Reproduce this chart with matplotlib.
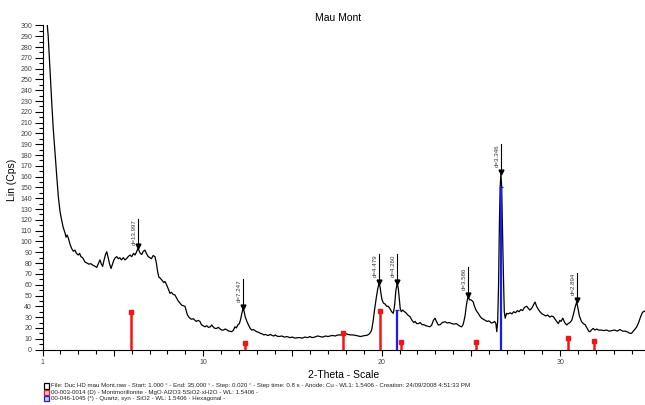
import matplotlib
matplotlib.use('Agg')
import matplotlib.pyplot as plt
from matplotlib.ticker import FixedLocator, MultipleLocator
from matplotlib.patches import Rectangle

plt.rcParams['font.family'] = ['Liberation Sans', 'DejaVu Sans']

# measured scan (2-theta in degrees, counts)
two_theta = [
    1.00, 1.10, 1.20, 1.27, 1.32, 1.40, 1.52, 1.60, 1.70, 1.80,
    1.89, 1.98, 2.07, 2.16, 2.26, 2.32, 2.38, 2.45, 2.55, 2.65,
    2.73, 2.82, 2.90, 3.00, 3.08, 3.15, 3.25, 3.38, 3.50, 3.60,
    3.70, 3.83, 3.95, 4.04, 4.12, 4.22, 4.30, 4.37, 4.45, 4.53,
    4.60, 4.68, 4.76, 4.84, 4.92, 5.00, 5.08, 5.16, 5.25, 5.33,
    5.42, 5.53, 5.62, 5.70, 5.80, 5.90, 6.00, 6.10, 6.18, 6.26,
    6.35, 6.42, 6.48, 6.56, 6.65, 6.74, 6.82, 6.92, 7.02, 7.10,
    7.20, 7.30, 7.38, 7.45, 7.52, 7.60, 7.70, 7.80, 7.86, 7.95,
    8.05, 8.14, 8.22, 8.32, 8.42, 8.50, 8.60, 8.70, 8.80, 8.90,
    8.98, 9.05, 9.12, 9.20, 9.26, 9.35, 9.45, 9.54, 9.62, 9.72,
    9.82, 9.90, 10.00, 10.10, 10.20, 10.30, 10.40, 10.48, 10.56, 10.66,
    10.76, 10.85, 10.95, 11.04, 11.14, 11.24, 11.34, 11.45, 11.60, 11.70,
    11.78, 11.86, 11.95, 12.03, 12.10, 12.16, 12.24, 12.30, 12.36, 12.45,
    12.53, 12.62, 12.72, 12.82, 12.90, 13.00, 13.10, 13.20, 13.30, 13.40,
    13.48, 13.56, 13.66, 13.76, 13.86, 13.96, 14.04, 14.12, 14.25, 14.40,
    14.55, 14.70, 14.85, 15.00, 15.15, 15.30, 15.43, 15.55, 15.70, 15.85,
    15.98, 16.10, 16.25, 16.40, 16.55, 16.70, 16.85, 17.00, 17.10, 17.25,
    17.40, 17.55, 17.67, 17.80, 17.95, 18.10, 18.25, 18.40, 18.55, 18.70,
    18.80, 18.95, 19.06, 19.16, 19.28, 19.38, 19.44, 19.52, 19.60, 19.70,
    19.78, 19.85, 19.91, 19.96, 20.02, 20.10, 20.20, 20.28, 20.37, 20.46,
    20.56, 20.65, 20.72, 20.80, 20.87, 20.93, 20.98, 21.04, 21.10, 21.18,
    21.28, 21.36, 21.46, 21.59, 21.70, 21.80, 21.88, 21.96, 22.06, 22.16,
    22.26, 22.36, 22.48, 22.60, 22.70, 22.80, 22.90, 22.99, 23.07, 23.17,
    23.28, 23.40, 23.55, 23.68, 23.80, 23.92, 24.05, 24.18, 24.30, 24.40,
    24.48, 24.56, 24.62, 24.68, 24.74, 24.80, 24.85, 24.92, 25.00, 25.08,
    25.13, 25.20, 25.30, 25.41, 25.50, 25.60, 25.70, 25.79, 25.90, 26.00,
    26.07, 26.15, 26.25, 26.33, 26.40, 26.45, 26.50, 26.55, 26.60, 26.64,
    26.68, 26.72, 26.77, 26.82, 26.87, 26.92, 27.00, 27.10, 27.20, 27.30,
    27.40, 27.50, 27.60, 27.70, 27.80, 27.90, 28.00, 28.13, 28.22, 28.30,
    28.40, 28.50, 28.59, 28.68, 28.78, 28.87, 28.98, 29.10, 29.20, 29.30,
    29.42, 29.52, 29.62, 29.72, 29.80, 29.90, 29.98, 30.05, 30.15, 30.25,
    30.37, 30.45, 30.55, 30.65, 30.75, 30.85, 30.93, 31.00, 31.08, 31.20,
    31.30, 31.40, 31.50, 31.60, 31.67, 31.75, 31.85, 31.95, 32.05, 32.15,
    32.30, 32.45, 32.60, 32.75, 32.90, 33.05, 33.20, 33.35, 33.50, 33.65,
    33.80, 33.90, 34.00, 34.10, 34.20, 34.29, 34.40, 34.50, 34.60, 34.66,
    34.80, 34.90, 35.00,
]
counts = [
    345, 325, 310, 300, 290, 265, 228, 205, 182, 160,
    141, 128, 120, 113, 108, 104, 106, 103, 97, 93,
    91, 92, 89, 87.5, 89, 86, 85, 81, 80, 79,
    79.5, 78, 77, 76, 79, 83, 79, 77, 83, 88,
    90.5, 85, 79, 75, 79, 83, 85, 86, 84, 85,
    83, 85, 83, 84, 86, 87.5, 86, 89, 87.5, 90,
    94, 91, 89, 88, 91, 92, 89, 86, 85, 84,
    87, 86, 80, 72, 67, 66, 64, 62, 63, 60,
    56, 52, 53, 51, 50.5, 48, 45, 43, 41, 40.5,
    40, 36, 32, 30, 29, 28, 28.5, 27, 26, 27,
    26, 23, 22, 21, 22, 20.5, 21, 22.7, 21, 19.5,
    19.6, 20.5, 19, 18, 18, 19, 18, 17, 16.5, 18,
    21, 20, 23, 24, 28, 33, 38, 35, 30, 26,
    23, 20, 18, 18.5, 17.5, 16.5, 16, 15, 14.5, 13.5,
    14, 13.4, 13, 14, 13, 12.5, 13.5, 12.5, 12, 12.5,
    11.5, 12, 11, 11.5, 10.5, 11, 11, 10.5, 11.5, 11,
    12, 11, 11.5, 12.5, 12, 11.5, 12.5, 12, 12.5, 13,
    12.5, 13.5, 13.4, 14, 15, 14, 13.5, 13.5, 13, 12.5,
    12, 12.5, 13, 13, 14, 16, 18, 26, 36.5, 48,
    56, 61, 58, 52, 46, 43, 42, 40, 40, 38,
    35, 33.5, 40, 55, 61, 57, 48, 38, 35, 36.5,
    35, 34, 32, 30.4, 27, 25, 26, 24, 24, 25,
    23, 23, 22, 21.5, 21, 22.5, 27, 29, 26, 22.7,
    23, 25, 25.7, 24.5, 25, 24, 23.5, 24, 22.5, 21.5,
    21, 23, 27, 32, 40, 46, 49, 46, 46, 45,
    44, 40, 36, 33.5, 31, 29, 28, 27, 26, 26.5,
    25.7, 24.5, 25, 26, 24, 16.5, 26, 60, 120, 150,
    163, 152, 110, 70, 35, 29, 33.5, 33, 34, 33,
    35, 34, 36, 35, 37, 36, 39, 40, 38, 36.5,
    38, 41, 44, 40, 37, 35, 33, 32, 31, 32,
    30, 31, 30.4, 28, 26, 24, 27, 26, 29, 25,
    22.7, 24, 25, 27, 33, 40, 44, 38, 31, 25.7,
    24, 23, 20, 17, 16.5, 18, 19.5, 18, 19, 18,
    18, 17.5, 18, 17, 17.5, 18, 17, 18.5, 17, 17,
    16, 15, 15, 17, 19, 21, 25, 30, 34, 35,
    36, 38, 39,
]

# labelled peaks
peak_pos = [6.35, 12.24, 19.85, 20.87, 24.85, 26.68, 30.93]
peak_int = [94, 38, 61, 61, 49, 163, 44]
peak_labels = ['d=13.997', 'd=7.247', 'd=4.479', 'd=4.260', 'd=3.586', 'd=3.346', 'd=2.894']

# reference patterns
mont_pos = [5.96, 12.35, 17.83, 19.90, 21.10, 25.30, 30.42, 31.90]
mont_int = [35, 6, 15, 35.5, 7, 7, 10.5, 7.5]
quartz_pos = [20.87, 26.68]
quartz_int = [36.5, 150]

footer = [
    'File: Duc HD mau Mont.raw - Start: 1.000 \u00b0 - End: 35.000 \u00b0 - Step: 0.020 \u00b0 - Step time: 0.8 s - Anode: Cu - WL1: 1.5406 - Creation: 24/09/2008 4:51:33 PM',
    '00-003-0014 (D) - Montmorillonite - MgO\u00b7Al2O3\u00b75SiO2\u00b7xH2O - WL: 1.5406 -',
    '00-046-1045 (*) - Quartz, syn - SiO2 - WL: 1.5406 - Hexagonal -',
]

fig = plt.figure(figsize=(6.45, 4.05), dpi=100)
ax = fig.add_axes([42.5 / 645, 55.5 / 405, (645 - 42.5) / 645, 324 / 405])

ax.plot(two_theta, counts, color='black', lw=0.9, zorder=3)

# stick patterns
for x, y in zip(mont_pos, mont_int):
    ax.plot([x, x], [0, y], color='#ff1010', lw=1.8, zorder=4, solid_capstyle='butt')
ax.plot(mont_pos, mont_int, 's', color='#ff1010', ms=3.2, zorder=5)
for x, y in zip(quartz_pos, quartz_int):
    ax.plot([x, x], [0, y], color='#1a1aff', lw=1.6, zorder=4, solid_capstyle='butt')
ax.plot(quartz_pos, quartz_int, '_', color='#1a1aff', ms=3, mew=1, zorder=5)

# peak labels
for x, y, lab in zip(peak_pos, peak_int, peak_labels):
    ax.plot([x, x], [y, y + 27], color='black', lw=0.8, zorder=5)
    ax.plot(x, y + 1.5, 'v', color='black', ms=3.5, zorder=6)
    ax.text(x - 0.08, y + 27, lab, rotation=90, ha='right', va='top',
            fontsize=4.4, color='#333333')

ax.set_xlim(1, 1 + (645 - 42.5) / 17.85)
ax.set_ylim(0, 300)

for s in ['top', 'right']:
    ax.spines[s].set_visible(False)
ax.spines['left'].set_linewidth(0.8)
ax.spines['bottom'].set_linewidth(0.8)

ax.xaxis.set_major_locator(FixedLocator([1, 5, 10, 15, 20, 25, 30]))
ax.set_xticklabels(['1', '', '10', '', '20', '', '30'])
ax.xaxis.set_minor_locator(MultipleLocator(1))
ax.yaxis.set_major_locator(MultipleLocator(10))
ax.yaxis.set_minor_locator(MultipleLocator(5))
ax.tick_params(axis='x', which='major', length=4.5, width=0.8, pad=2.5, labelsize=5, labelcolor='#444444')
ax.tick_params(axis='x', which='minor', length=3.2, width=0.8)
ax.tick_params(axis='y', which='major', length=5.5, width=0.8, pad=2, labelsize=5, labelcolor='#444444')
ax.tick_params(axis='y', which='minor', length=3, width=0.8)

ax.set_xlabel('2-Theta - Scale', fontsize=7.5, labelpad=3)
fig.text(12 / 645, 1 - 180 / 405, 'Lin (Cps)', rotation=90, ha='center', va='center', fontsize=7.5)
fig.text(338 / 645, 1 - 18 / 405, 'Mau Mont', ha='center', va='center', fontsize=7.5)

# footer with pattern icons
icon_cols = [('white', 'black'), ('#ffd0d0', '#ff1010'), ('#d0d0ff', '#1a1aff')]
for i, (txt, (fc, ec)) in enumerate(zip(footer, icon_cols)):
    yc = 386 + 6.2 * i
    fig.patches.append(Rectangle((43.5 / 645, 1 - (yc + 2.7) / 405), 5.5 / 645, 5.4 / 405,
                                 transform=fig.transFigure, facecolor=fc, edgecolor=ec, lw=0.9))
    fig.text(51 / 645, 1 - yc / 405, txt, ha='left', va='center', fontsize=4.4, color='#222222')

fig.savefig('out.png', dpi=100)
